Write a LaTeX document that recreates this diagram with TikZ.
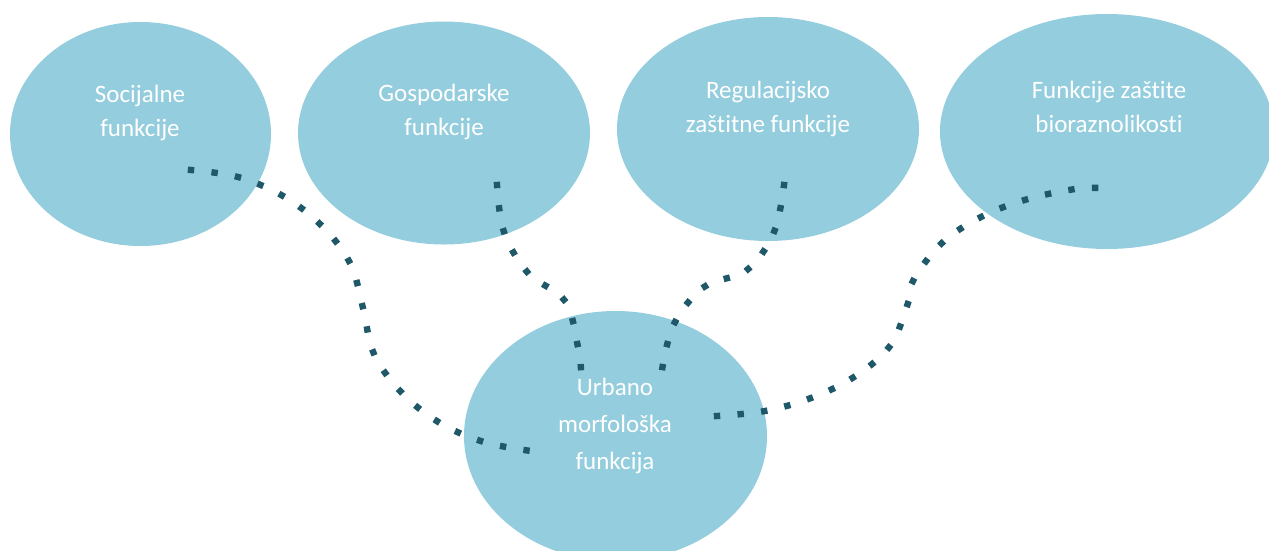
\documentclass[tikz,border=0pt]{standalone}
\usepackage{fontspec}
\setmainfont{Carlito}[Ligatures=NoCommon]
\usepackage{tikz}
\usetikzlibrary{positioning, shapes.geometric}
\definecolor{bubble}{HTML}{94CDDD}
\definecolor{dotteal}{HTML}{1F5868}

\begin{document}
\begin{tikzpicture}[x=1pt, y=-1pt,
		bubble/.style={ellipse, fill=bubble, draw=none, inner sep=0pt},
		label/.style={text=white, align=center, font=\fontsize{25}{34}\selectfont},
		dotline/.style={draw=dotteal, line width=6.4pt, line cap=rect, dash pattern=on 0.01pt off #1}]
		
		\useasboundingbox (0,0) rectangle (1269,550);
		\clip (0,0) rectangle (1269,550);
		
		\node[bubble, minimum width=261pt, minimum height=224pt] (soc) at (140.5,134) {};
		\node[bubble, minimum width=292pt, minimum height=223pt] (gos) at (444,133) {};
		\node[bubble, minimum width=302pt, minimum height=224pt] (reg) at (768,129) {};
		\node[bubble, minimum width=334pt, minimum height=235pt] (bio) at (1107,131.5) {};
		\node[bubble, minimum width=303pt, minimum height=250pt] (urb) at (615.5,436) {};
		
		\node[label] (soc-t) at (140,113) {Socijalne\\funkcije};
		\node[label] (gos-t) at (444,112) {Gospodarske\\funkcije};
		\node[label] (reg-t) at (768,109) {Regulacijsko\\zaštitne funkcije};
		\node[label] (bio-t) at (1109,107) {Funkcije zaštite\\bioraznolikosti};
		\node[label, font=\fontsize{25}{37}\selectfont] (urb-t) at (615,426) {Urbano\\morfološka\\funkcija};
		
		\coordinate (soc-e) at (191,170);
		\coordinate (gos-e) at (497,185);
		\coordinate (reg-e) at (784,185);
		\coordinate (bio-e) at (1099,188);
		\coordinate (urb-w) at (531,451);
		\coordinate (urb-nw) at (581,370);
		\coordinate (urb-ne) at (662,370);
		\coordinate (urb-e) at (717,416);
		
		% dotted links into the middle bubble
		\draw[dotline=23.74pt] plot[smooth, tension=0.6] coordinates {(soc-e) (238,177) (283,196) (321,225) (350,263) (363,308) (374,354) (402,393) (440,423) (484,442) (urb-w)};
		\draw[dotline=23.39pt] plot[smooth, tension=0.6] coordinates {(gos-e) (504,232) (528,273) (565,301) (578,347) (urb-nw)};
		\draw[dotline=23.44pt] plot[smooth, tension=0.6] coordinates {(reg-e) (774,232) (747,270) (704,287) (674,324) (urb-ne)};
		\draw[dotline=23.74pt] plot[smooth, tension=0.6] coordinates {(urb-e) (765,411) (811,398) (854,377) (890,346) (908,303) (914,279) (943,242) (983,216) (1028,199) (1075,189) (bio-e)};
		
\end{tikzpicture}
\end{document}
